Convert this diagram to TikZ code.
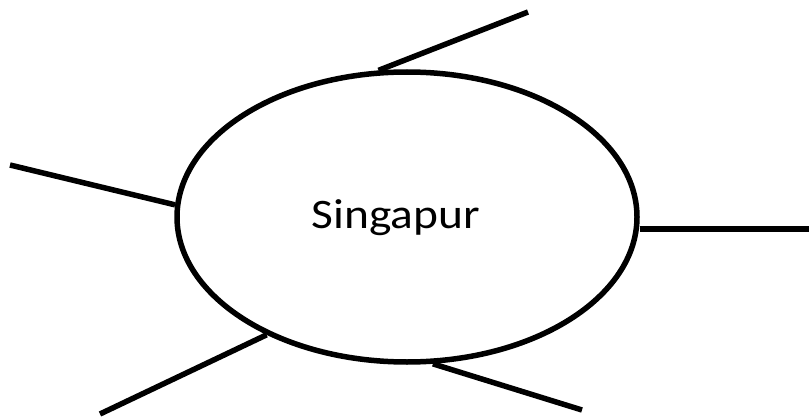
\documentclass[tikz,border=0pt]{standalone}
\usepackage{fontspec}
\setmainfont{Carlito}
\usetikzlibrary{shapes.geometric}
\tikzset{
  hub/.style={draw,ellipse,line width=5.5pt,minimum width=460pt,minimum height=290pt,
              inner sep=0pt},
  lab/.style={font=\fontsize{42}{46}\selectfont,inner sep=0pt,anchor=base,xscale=1.13},
  spoke/.style={line width=5.5pt},
}

\begin{document}
\begin{tikzpicture}[x=1pt,y=-1pt]
      \useasboundingbox (0,0) rectangle (809,420);
      \node[hub] (sg) at (407,217) {};
      \node[lab] (sgname) at (396,228) {Singapur};
      \coordinate (nt) at (528,12);
      \coordinate (wt) at (10,165);
      \coordinate (et) at (809,229);
      \coordinate (swt) at (100,414);
      \coordinate (set) at (582,410);
      \foreach \a/\e in {101.7/nt,177/wt,220.3/swt,280.5/set} \draw[spoke] (sg.\a)--(\e);
      \draw[spoke] (et -| sg.east)--(et);
    \end{tikzpicture}
\end{document}
